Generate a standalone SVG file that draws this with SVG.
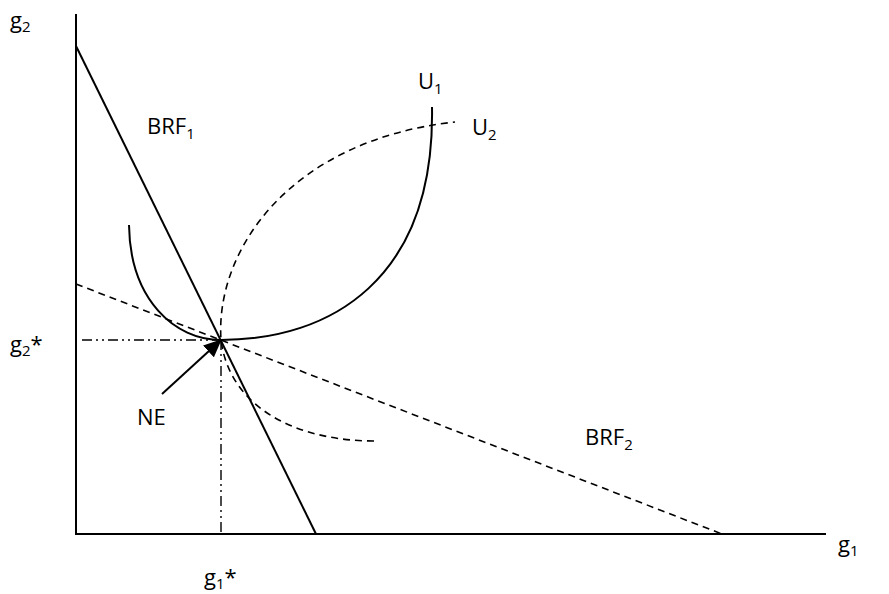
<svg xmlns="http://www.w3.org/2000/svg" width="889" height="594" viewBox="0 0 889 594">
<style>
.ln{fill:none;stroke:#000;stroke-width:2}
.ds{fill:none;stroke:#000;stroke-width:1.6;stroke-dasharray:7,5}
.dd{fill:none;stroke:#000;stroke-width:1.4;stroke-dasharray:10,4,2,4,2,4}
text{font-family:"Open Sans","Liberation Sans",sans-serif;font-size:22px;fill:#000}
.sub{font-size:15px}
</style>
<defs>
<marker id="ah2" markerWidth="18" markerHeight="16" refX="17" refY="8" orient="auto" markerUnits="userSpaceOnUse">
<path d="M0,0 L18,8 L0,16 z" fill="#000"/>
</marker>
</defs>
<g id="axes">
<line class="ln" x1="76" y1="14" x2="76" y2="535"/>
<line class="ln" x1="75" y1="534" x2="826" y2="534"/>
</g>
<g id="connectors">
<line class="dd" x1="82" y1="340" x2="221" y2="340"/>
<line class="dd" x1="221" y1="340" x2="221" y2="534"/>
<path id="brf1" class="ln" d="M76,46 L316,534"/>
<path id="brf2" class="ds" d="M76,284 L722,534"/>
<path id="u1" class="ln" d="M129,225 C130,300 175,340 221,340 C330,340 435,280 432,107"/>
<path id="u2" class="ds" d="M374,441 C300,441 230,410 221,340 C215,250 290,140 455,122"/>
<line id="ne-arrow" class="ln" stroke-width="2.5" x1="162" y1="394" x2="221" y2="340" marker-end="url(#ah2)"/>
</g>
<g id="labels">
<text x="10" y="28">g<tspan class="sub" dy="4">2</tspan></text>
<text x="147" y="134">BRF<tspan class="sub" dy="5">1</tspan></text>
<text x="418" y="89">U<tspan class="sub" dy="5">1</tspan></text>
<text x="472" y="135">U<tspan class="sub" dy="5">2</tspan></text>
<text x="10" y="352">g<tspan class="sub" dy="4">2</tspan><tspan dy="-4">*</tspan></text>
<text x="137" y="425">NE</text>
<text x="585" y="445">BRF<tspan class="sub" dy="5">2</tspan></text>
<text x="838" y="552">g<tspan class="sub" dy="4">1</tspan></text>
<text x="204" y="585">g<tspan class="sub" dy="4">1</tspan><tspan dy="-4">*</tspan></text>
</g>
</svg>
